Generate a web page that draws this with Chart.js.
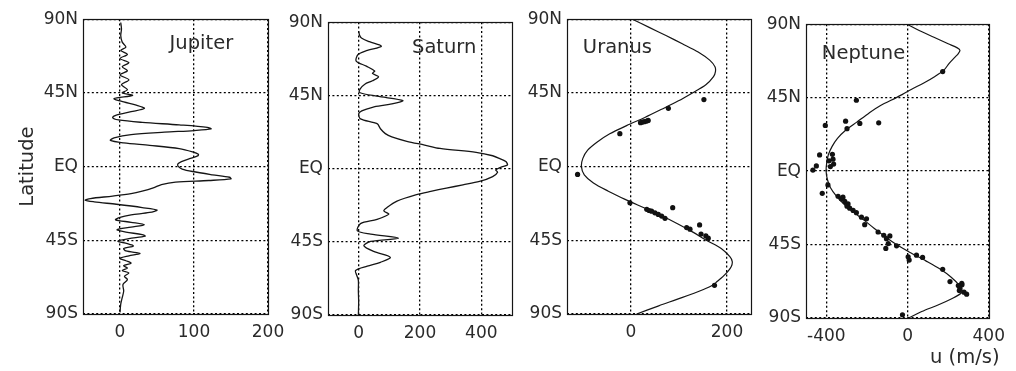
<!DOCTYPE html>
<html>
<head>
<meta charset="utf-8">
<title>Zonal winds of the giant planets</title>
<script src="https://cdn.jsdelivr.net/npm/chart.js@4"></script>
<style>
  html, body { margin: 0; padding: 0; background: #fff; }
  #wrap { position: relative; width: 1016px; height: 371px; overflow: hidden; background: #fff; }
  #wrap canvas { position: absolute; }
  .axis-caption { position: absolute; font-family: "DejaVu Sans", sans-serif; color: #2a2a2a; white-space: nowrap; line-height: 1; }
</style>
</head>
<body>
<div id="wrap">
  <canvas id="jupiter"></canvas>
  <canvas id="saturn"></canvas>
  <canvas id="uranus"></canvas>
  <canvas id="neptune"></canvas>
  <div class="axis-caption" id="unitCaption" style="left:930px; top:347px; font-size:19.5px;">u (m/s)</div>
</div>
<script>
// ---- latitude axis (shared) ----
const latTickValues = [-90, -45, 0, 45, 90];
const latTickLabels = ['90S', '45S', 'EQ', '45N', '90N'];

// ---- wind-speed ticks per planet (m/s) ----
const jupiterTicks = [0, 100, 200];
const saturnTicks = [0, 200, 400];
const uranusTicks = [0, 200];
const neptuneTicks = [-400, 0, 400];

// ---- Jupiter zonal wind profile ----
const jupiterLat = [88, 84, 80, 76, 73, 71, 68.5, 66, 63.5, 61, 58.5, 56, 53, 50, 47, 45, 43.5, 41.5, 39.5, 37.5, 35.5, 33.5, 31.5, 30, 28.5, 27, 25.5, 24, 23, 22, 21, 19.5, 17.5, 16, 14.5, 13, 11, 9, 7.5, 6.5, 5, 3, 1.5, 0, -1.5, -3, -5, -6.5, -7.5, -8.5, -9.5, -11, -13, -15, -16.5, -18, -19.5, -20.5, -21.5, -23, -25, -26.5, -28, -29.5, -31, -32.5, -34, -35.5, -37, -38.5, -40, -41.5, -42.5, -44, -45.5, -47, -48.5, -50, -51.5, -53, -54.5, -56, -57.5, -59, -60.5, -62, -63.5, -65, -67, -69, -72, -76, -80, -84, -89];
const jupiterU = [1, 2, 1, 3, 8, 1, 10, 0, 12, 3, 10, 0, 12, 2, 10, 3, 17, -8, 5, 22, 33, 15, -5, -10, -2, 30, 80, 118, 123, 100, 60, 15, -8, -13, 5, 40, 80, 98, 106, 105, 95, 83, 78, 79, 84, 98, 125, 148, 150, 120, 75, 56, 45, 30, 15, -10, -40, -47, -35, -5, 30, 50, 40, 15, 0, -6, 15, 33, 15, -4, 8, 30, 34, 12, -3, 10, 18, 5, 8, 27, 12, 0, 8, 15, 5, 10, 3, 12, 6, 10, 4, 5, 3, 1, 0];

// ---- Saturn zonal wind profile ----
const saturnLat = [84.3, 82, 80.3, 78, 75.2, 72.5, 70.1, 66.1, 63, 60, 58.5, 56.5, 54, 51.9, 49, 46.8, 44.5, 41.8, 39.5, 37.7, 35.5, 33.6, 30.6, 27.6, 24.5, 21.5, 19.5, 16.8, 14.5, 12.4, 10, 7.9, 6, 4.3, 2.2, 0.8, -0.8, -2.2, -4.9, -7.9, -10, -12, -14, -16, -20, -24, -26, -28, -31.2, -33.8, -38.3, -40.3, -42.8, -44.8, -47.4, -50.9, -54.5, -57.6, -60, -62.6, -65.7, -68.7, -75, -82, -90];
const saturnU = [0, 3, 9, 35, 74, 25, -2, -8, 25, 52, 45, 65, 45, 20, 5, 3, 60, 144, 100, 45, 10, 0, 6, 60, 71, 87, 108, 157, 215, 265, 383, 437, 462, 480, 485, 463, 447, 453, 437, 394, 340, 286, 235, 189, 125, 92, 82, 98, 60, 6, -4, 39, 130, 39, 17, 49, 103, 71, 28, -10, -6, -1, -1, 0, -1];

// ---- Uranus: fitted profile and cloud-tracked winds ----
const uranusFitLat = [90, 85, 80, 75, 70, 65, 61, 58, 55, 50, 45, 40, 35, 30, 25, 20, 15, 10, 5, 0, -5, -10, -15, -20, -25, -30, -35, -40, -45, -50, -55, -58, -61, -64, -67, -70, -72.5, -75, -80, -85, -90];
const uranusFitU = [3, 38, 73, 107, 140, 164, 175, 176, 172, 156, 128, 98, 64, 29, -9, -44, -70, -90, -100, -103, -97, -78, -47, -12, 26, 64, 98, 129, 157, 188, 206, 211, 209, 202, 192, 180, 170, 151, 106, 58, 12];
const uranusObsLat = [40.9, 35.6, 26.8, 27.2, 27.4, 27.8, 28.2, 20.1, -4.8, -22.1, -26.1, -26.8, -27.2, -28.2, -29.2, -30.2, -31.6, -25.1, -37.2, -38.2, -35.6, -41.2, -42.3, -43.7, -72.5];
const uranusObsU = [152, 78, 20, 24, 28, 33, 36, -23, -111, -2, 33, 38, 43, 50, 57, 64, 71, 87, 116, 123, 143, 146, 156, 161, 174];

// ---- Neptune: fitted profile and cloud-tracked winds ----
const neptuneFitLat = [90, 86, 82, 78, 75.5, 74, 72, 70, 66, 62, 58, 54, 50, 47, 45, 40, 35.5, 30, 25, 20, 15, 10, 5, 0, -5, -10, -15, -20, -25, -30, -35, -40, -45, -50, -55, -60, -65, -70, -73, -75, -78, -82, -86, -90];
const neptuneFitU = [-3, 60, 130, 200, 245, 258, 250, 235, 205, 180, 135, 80, 18, -25, -55, -135, -190, -250, -305, -345, -372, -390, -398, -401, -395, -380, -352, -315, -268, -215, -165, -112, -55, 15, 90, 160, 215, 255, 268, 262, 220, 150, 70, 5];
const neptuneObsLat = [61.0, 43.4, 28.0, 30.6, 29.2, 26.0, 29.6, 9.9, 10.3, 6.3, 4.3, 2.8, 3.2, 0.6, 7.3, -8.5, -13.6, -15.4, -16, -17, -18.6, -20.1, -21.5, -22.7, -24.1, -25.5, -28.2, -29.2, -32.8, -37.3, -39.3, -41.4, -39.7, -44.4, -47.4, -45.8, -52.5, -54.5, -51.5, -52.9, -60.2, -67.7, -70.1, -71.8, -69.7, -73.2, -74.2, -75.4, -68.7, -88];
const neptuneObsU = [173, -252, -405, -305, -235, -298, -142, -433, -370, -387, -364, -380, -449, -466, -367, -392, -420, -342, -318, -326, -309, -293, -298, -285, -268, -252, -227, -202, -211, -145, -117, -104, -87, -95, -107, -54, 3, 8, 44, 74, 173, 209, 250, 258, 268, 255, 278, 291, 267, -25];

// ---- helpers ----
const FONT = '"DejaVu Sans", sans-serif';
const INK = '#151515';
const TEXT = '#2a2a2a';

function pairs(us, lats) {
  return us.map((u, i) => ({ x: u, y: lats[i] }));
}

function profileSet(us, lats, width, tension) {
  return {
    data: pairs(us, lats),
    showLine: true,
    borderColor: INK,
    borderWidth: width,
    pointRadius: 0,
    tension: tension,
    fill: false
  };
}

function obsSet(us, lats) {
  return {
    data: pairs(us, lats),
    showLine: false,
    pointRadius: 2.6,
    pointBackgroundColor: '#111',
    pointBorderColor: '#111',
    pointBorderWidth: 0
  };
}

// solid box round the plotting area
const framePlugin = {
  id: 'frame',
  afterDatasetsDraw(chart) {
    const { ctx, chartArea: a } = chart;
    ctx.save();
    ctx.setLineDash([]);
    ctx.strokeStyle = INK;
    ctx.lineWidth = 1.2;
    ctx.strokeRect(Math.round(a.left) + 0.5, Math.round(a.top) + 0.5,
                   Math.round(a.right - a.left), Math.round(a.bottom - a.top));
    ctx.restore();
  }
};

// planet name written inside the plot, anchored in data units
const namePlugin = {
  id: 'planetName',
  afterDraw(chart, args, opts) {
    if (!opts || !opts.text) return;
    const { ctx, scales } = chart;
    const x = scales.x.getPixelForValue(opts.u);
    const y = scales.y.getPixelForValue(opts.lat);
    ctx.save();
    ctx.font = '19.5px ' + FONT;
    ctx.fillStyle = TEXT;
    ctx.textAlign = 'left';
    ctx.textBaseline = 'middle';
    ctx.fillText(opts.text, x, y);
    ctx.restore();
  }
};

function buildPanel(p) {
  const padTop = 12, xAxisH = 48;
  const canvas = document.getElementById(p.id);
  canvas.width = p.yw + p.w + p.pr;
  canvas.height = padTop + p.h + xAxisH;
  canvas.style.left = (p.l - p.yw) + 'px';
  canvas.style.top = (p.t - padTop) + 'px';

  const gridCommon = { color: '#000', lineWidth: 1.3, drawTicks: false };
  const borderCommon = { display: false, dash: [2, 2.4] };

  return new Chart(canvas, {
    type: 'scatter',
    data: { datasets: p.datasets },
    options: {
      responsive: false,
      animation: false,
      devicePixelRatio: 1,
      layout: { padding: { top: padTop, right: p.pr, left: 0, bottom: 0 } },
      plugins: {
        legend: { display: false },
        tooltip: { enabled: false },
        planetName: { text: p.name, u: p.nameU, lat: p.nameLat }
      },
      scales: {
        x: {
          type: 'linear',
          min: p.xMin,
          max: p.xMax,
          afterBuildTicks: s => { s.ticks = p.ticks.map(v => ({ value: v })); },
          afterFit: s => { s.height = xAxisH; },
          grid: gridCommon,
          border: borderCommon,
          ticks: {
            color: TEXT,
            font: { family: FONT, size: 17 },
            padding: 8,
            autoSkip: false,
            maxRotation: 0,
            callback: v => String(v)
          }
        },
        y: {
          type: 'linear',
          min: -90,
          max: 90,
          afterBuildTicks: s => { s.ticks = latTickValues.map(v => ({ value: v })); },
          afterFit: s => { s.width = p.yw; },
          grid: gridCommon,
          border: borderCommon,
          title: p.yTitle ? {
            display: true,
            text: p.yTitle,
            color: TEXT,
            font: { family: FONT, size: 19.5 },
            padding: { top: 16, bottom: 0 }
          } : { display: false },
          ticks: {
            color: TEXT,
            font: { family: FONT, size: 17 },
            padding: 5,
            autoSkip: false,
            callback: v => latTickLabels[latTickValues.indexOf(v)]
          }
        }
      }
    },
    plugins: [framePlugin, namePlugin]
  });
}

buildPanel({
  id: 'jupiter', name: 'Jupiter', nameU: 67, nameLat: 75,
  l: 83, t: 16, w: 185, h: 298, yw: 83, pr: 25,
  xMin: -50, xMax: 200, ticks: jupiterTicks, yTitle: 'Latitude',
  datasets: [profileSet(jupiterU, jupiterLat, 1.3, 0.3)]
});

buildPanel({
  id: 'saturn', name: 'Saturn', nameU: 174, nameLat: 74.3,
  l: 328, t: 19, w: 184, h: 296, yw: 46, pr: 22,
  xMin: -100, xMax: 500, ticks: saturnTicks,
  datasets: [profileSet(saturnU, saturnLat, 1.3, 0.3)]
});

buildPanel({
  id: 'uranus', name: 'Uranus', nameU: -100, nameLat: 72.2,
  l: 567, t: 16, w: 184, h: 298, yw: 46, pr: 22,
  xMin: -133, xMax: 250, ticks: uranusTicks,
  datasets: [profileSet(uranusFitU, uranusFitLat, 1.2, 0.3), obsSet(uranusObsU, uranusObsLat)]
});

buildPanel({
  id: 'neptune', name: 'Neptune', nameU: -422, nameLat: 71.5,
  l: 806, t: 21, w: 185, h: 297, yw: 46, pr: 22,
  xMin: -500, xMax: 400, ticks: neptuneTicks,
  datasets: [profileSet(neptuneFitU, neptuneFitLat, 1.2, 0.3), obsSet(neptuneObsU, neptuneObsLat)]
});
</script>
</body>
</html>
